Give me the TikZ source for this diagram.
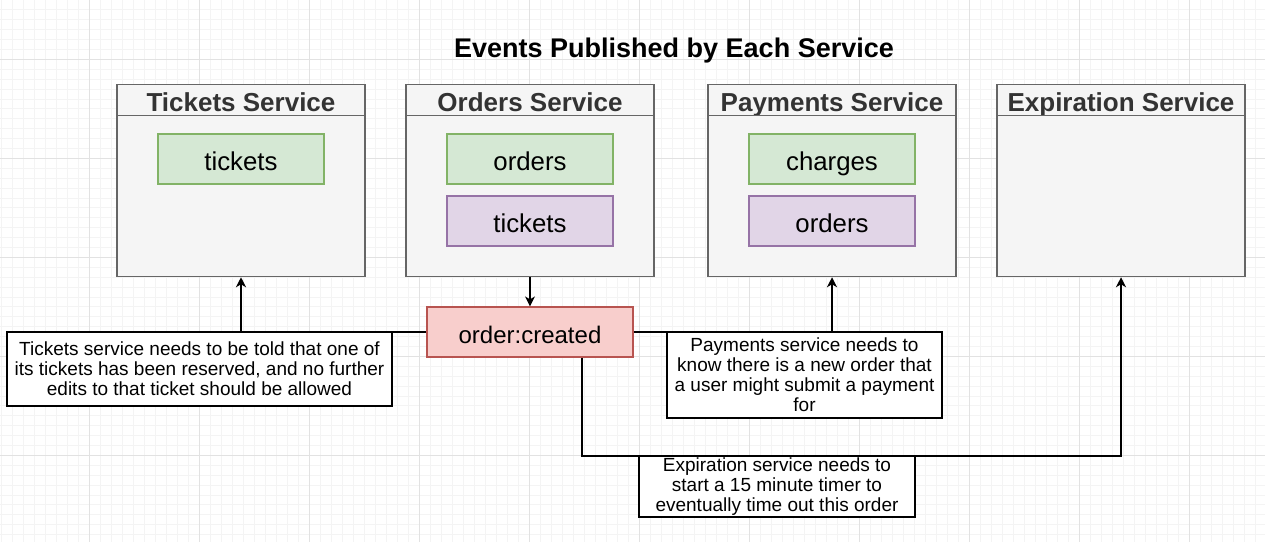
\documentclass[tikz,border=0pt]{standalone}
\usepackage{fontspec}
\setmainfont{Liberation Sans}
\usepackage{tikz}
\usetikzlibrary{positioning}
\usetikzlibrary{arrows.meta}
\definecolor{svcfill}{HTML}{F5F5F5}
\definecolor{svcline}{HTML}{666666}
\definecolor{svctext}{HTML}{333333}
\definecolor{greenfill}{HTML}{D5E8D4}
\definecolor{greenline}{HTML}{82B366}
\definecolor{purplefill}{HTML}{E1D5E7}
\definecolor{purpleline}{HTML}{9673A6}
\definecolor{redfill}{HTML}{F8CECC}
\definecolor{redline}{HTML}{B85450}
\definecolor{gridminor}{HTML}{F4F4F4}
\definecolor{gridmajor}{HTML}{E2E2E2}
\tikzset{svc head/.style={rectangle,draw=svcline,fill=svcfill,line width=0.75pt,minimum width=124pt,minimum height=15.5pt,inner sep=0pt,text height=12pt,text depth=0.7pt,text=svctext,font=\bfseries\fontsize{13}{13}\selectfont},
  svc body/.style={rectangle,draw=svcline,fill=svcfill,line width=0.75pt,minimum width=124pt,minimum height=80.5pt,inner sep=0pt},
  store node/.style={rectangle,line width=0.6pt,minimum width=83pt,minimum height=25pt,inner sep=0pt,text height=12pt,text depth=1pt,font=\fontsize{12.9}{13}\selectfont},
  green node/.style={store node,draw=greenline,fill=greenfill},
  purple node/.style={store node,draw=purpleline,fill=purplefill},
  event node/.style={store node,draw=redline,fill=redfill,minimum width=103pt,font=\fontsize{12}{12}\selectfont},
  note node/.style={rectangle,draw=black,fill=white,line width=0.6pt,inner sep=0pt,align=center,font=\fontsize{9.5}{10}\selectfont},
  flow/.style={-{Stealth[length=5pt,width=5pt,inset=1.5pt]},line width=0.7pt},}

\begin{document}
\begin{tikzpicture}[x=0.5pt,y=-0.5pt]
    \useasboundingbox (0,0) rectangle (1265,542);
    \fill[white] (0,0) rectangle (1265,542);
    % grid
    \foreach \k in {0,...,115}
        \draw[gridminor,line width=0.4pt] (1.3+11*\k,0) -- (1.3+11*\k,542);
    \foreach \k in {1,...,54}
        \draw[gridminor,line width=0.4pt] (0,-0.1+9.9*\k) -- (1265,-0.1+9.9*\k);
    \foreach \k in {0,...,10}
        \draw[gridmajor,line width=0.5pt] (89.3+110*\k,0) -- (89.3+110*\k,542);
    \foreach \k in {0,...,4}
        \draw[gridmajor,line width=0.5pt] (0,59.3+99*\k) -- (1265,59.3+99*\k);

    \node[font=\bfseries\fontsize{13.5}{13.5}\selectfont] (title) at (674,51) {Events Published by Each Service};

    % services
    \node[svc head] (ts) at (241,100) {Tickets Service};
    \node[svc body] (tsb) at (241,196) {};
    \node[svc head] (os) at (530,100) {Orders Service};
    \node[svc body] (osb) at (530,196) {};
    \node[svc head] (ps) at (832,100) {Payments Service};
    \node[svc body] (psb) at (832,196) {};
    \node[svc head] (es) at (1121,100) {Expiration Service};
    \node[svc body] (esb) at (1121,196) {};

    % stored data
    \node[green node] (tstickets) at (241,159) {tickets};
    \node[green node] (osorders) at (530,159) {orders};
    \node[purple node] (ostickets) at (530,221) {tickets};
    \node[green node] (pscharges) at (832,159) {charges};
    \node[purple node] (psorders) at (832,221) {orders};

    \node[event node] (ev) at (530,332) {order:created};

    \draw[flow] (osb.south) -- (ev.north);
    \draw[flow] (ev.west) -| (tsb.south);
    \draw[flow] (ev.east) -| (psb.south);
    \draw[flow] ([xshift=26pt]ev.south) |- (esb.south |- 0,456) -- (esb.south);

    % notes
    \node[note node,minimum width=192.5pt,minimum height=37pt] (tnote) at (199.5,369)
        {Tickets service needs to be told that one of\\its tickets has been reserved, and no further\\edits to that ticket should be allowed};
    \node[note node,minimum width=137.5pt,minimum height=43pt] (pnote) at (804.5,375)
        {Payments service needs to\\know there is a new order that\\a user might submit a payment\\for};
    \node[note node,minimum width=138pt,minimum height=30.5pt] (enote) at (777,486.5)
        {Expiration service needs to\\start a 15 minute timer to\\eventually time out this order};
\end{tikzpicture}
\end{document}
